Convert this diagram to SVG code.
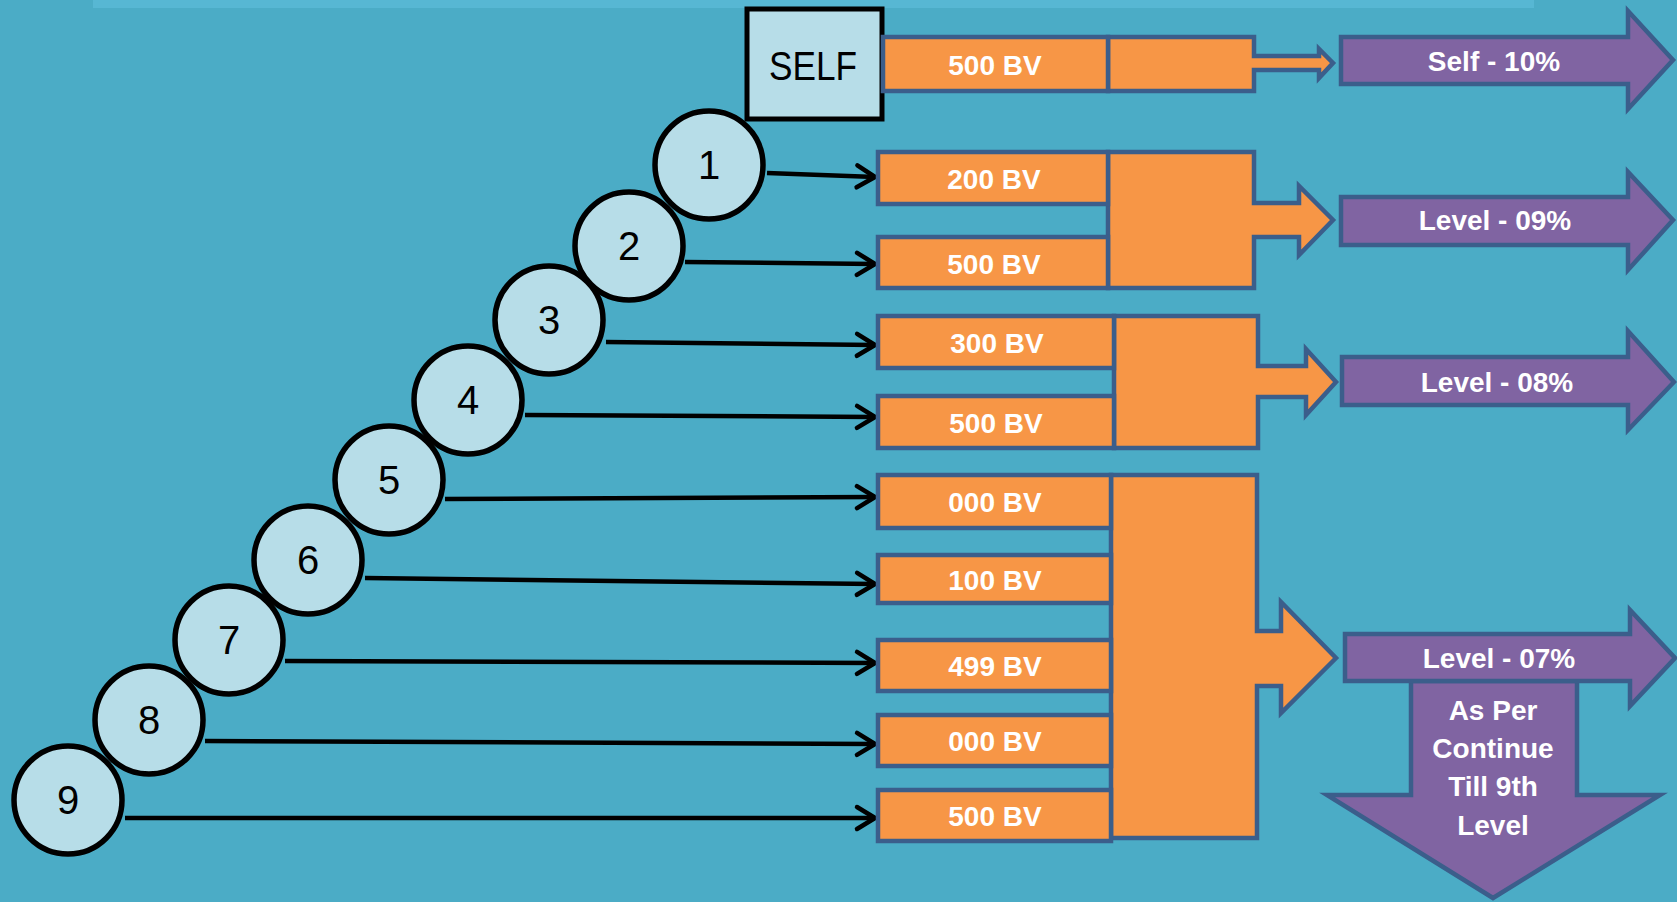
<svg xmlns="http://www.w3.org/2000/svg" width="1677" height="902" viewBox="0 0 1677 902">
<style>
.bg{fill:#4BACC6}
.strip{fill:#57B7D3}
.circ{fill:#B7DDE8;stroke:#000;stroke-width:5.5}
.num{font-family:"Liberation Sans",Arial,sans-serif;font-size:40px;fill:#000;text-anchor:middle}
.self{fill:#B7DDE8;stroke:#000;stroke-width:5}
.selft{font-family:"Liberation Sans",Arial,sans-serif;font-size:40px;fill:#000;text-anchor:middle}
.org{fill:#F79646;stroke:#3B5E8B;stroke-width:4.5;stroke-linejoin:miter}
.pur{fill:#8064A2;stroke:#3B5E8B;stroke-width:4.5;stroke-linejoin:miter}
.wt{font-family:"Liberation Sans",Arial,sans-serif;font-size:28px;font-weight:bold;fill:#fff;text-anchor:middle}
.con{stroke:#000;stroke-width:4.5;fill:none;marker-end:url(#chev)}
</style>
<defs>
<marker id="chev" markerUnits="userSpaceOnUse" viewBox="-24 -15 28 30" markerWidth="28" markerHeight="30" refX="0" refY="0" orient="auto">
<path d="M-18,-11 L0,0 L-18,11" fill="none" stroke="#000" stroke-width="4.5" stroke-linecap="round" stroke-linejoin="round"/>
</marker>
</defs>
<rect class="bg" x="0" y="0" width="1677" height="902"/>
<rect class="strip" x="93" y="0" width="1441" height="8"/>

<g id="connectors">
<line class="con" x1="767" y1="173" x2="875" y2="177"/>
<line class="con" x1="685" y1="262" x2="875" y2="264"/>
<line class="con" x1="606" y1="342" x2="875" y2="345"/>
<line class="con" x1="525" y1="415" x2="875" y2="417"/>
<line class="con" x1="445" y1="499" x2="875" y2="497"/>
<line class="con" x1="365" y1="578" x2="875" y2="584"/>
<line class="con" x1="285" y1="661" x2="875" y2="663"/>
<line class="con" x1="205" y1="741" x2="875" y2="744"/>
<line class="con" x1="125" y1="818" x2="875" y2="818"/>
</g>

<g id="n9"><circle class="circ" cx="68" cy="800" r="54"/><text class="num" x="68" y="814">9</text></g>
<g id="n8"><circle class="circ" cx="149" cy="720" r="54"/><text class="num" x="149" y="734">8</text></g>
<g id="n7"><circle class="circ" cx="229" cy="640" r="54"/><text class="num" x="229" y="654">7</text></g>
<g id="n6"><circle class="circ" cx="308" cy="560" r="54"/><text class="num" x="308" y="574">6</text></g>
<g id="n5"><circle class="circ" cx="389" cy="480" r="54"/><text class="num" x="389" y="494">5</text></g>
<g id="n4"><circle class="circ" cx="468" cy="400" r="54"/><text class="num" x="468" y="414">4</text></g>
<g id="n3"><circle class="circ" cx="549" cy="320" r="54"/><text class="num" x="549" y="334">3</text></g>
<g id="n2"><circle class="circ" cx="629" cy="246" r="54"/><text class="num" x="629" y="260">2</text></g>
<g id="n1"><circle class="circ" cx="709" cy="165" r="54"/><text class="num" x="709" y="179">1</text></g>

<g id="selfbox"><rect class="self" x="747" y="9" width="135" height="110"/><text class="selft" x="813" y="80" textLength="88" lengthAdjust="spacingAndGlyphs">SELF</text></g>

<g id="self-row">
<path class="org" d="M1108,37 H1254 V56 H1319 V49 L1333,63 L1319,78 V70 H1254 V91 H1108 Z"/>
<rect class="org" x="883" y="37" width="225" height="54"/>
<text class="wt" x="995" y="75">500 BV</text>
</g>

<g id="lvl9-group">
<path class="org" d="M1108,152 H1254 V203 H1299 V186 L1333,220 L1299,255 V237 H1254 V288 H1108 Z"/>
<rect class="org" x="878" y="152" width="230" height="52"/>
<text class="wt" x="994" y="189">200 BV</text>
<rect class="org" x="878" y="237" width="230" height="51"/>
<text class="wt" x="994" y="274">500 BV</text>
</g>

<g id="lvl8-group">
<path class="org" d="M1114,316 H1258 V366 H1306 V349 L1336,382 L1306,415 V397 H1258 V448 H1114 Z"/>
<rect class="org" x="878" y="316" width="236" height="52"/>
<text class="wt" x="997" y="353">300 BV</text>
<rect class="org" x="878" y="396" width="236" height="52"/>
<text class="wt" x="996" y="433">500 BV</text>
</g>

<g id="lvl7-group">
<path class="org" d="M1111,475 H1257 V631 H1281 V602 L1336,658 L1281,713 V686 H1257 V838 H1111 Z"/>
<rect class="org" x="878" y="475" width="233" height="53"/>
<text class="wt" x="995" y="512">000 BV</text>
<rect class="org" x="878" y="555" width="233" height="48"/>
<text class="wt" x="995" y="590">100 BV</text>
<rect class="org" x="878" y="640" width="233" height="51"/>
<text class="wt" x="995" y="676">499 BV</text>
<rect class="org" x="878" y="715" width="233" height="51"/>
<text class="wt" x="995" y="751">000 BV</text>
<rect class="org" x="878" y="790" width="233" height="51"/>
<text class="wt" x="995" y="826">500 BV</text>
</g>

<g id="self-10">
<path class="pur" d="M1341,37 H1628 V11 L1673,60 L1628,109 V84 H1341 Z"/>
<text class="wt" x="1494" y="71">Self - 10%</text>
</g>
<g id="level-09">
<path class="pur" d="M1341,197 H1628 V172 L1673,220 L1628,270 V245 H1341 Z"/>
<text class="wt" x="1495" y="230">Level - 09%</text>
</g>
<g id="level-08">
<path class="pur" d="M1342,357 H1628 V331 L1674,382 L1628,430 V405 H1342 Z"/>
<text class="wt" x="1497" y="392">Level - 08%</text>
</g>
<g id="level-07">
<path class="pur" d="M1411,681 H1577 V795 H1660 L1493,898 L1327,795 H1411 Z"/>
<path class="pur" d="M1345,634 H1630 V610 L1675,658 L1630,706 V681 H1345 Z"/>
<text class="wt" x="1499" y="668">Level - 07%</text>
<text class="wt" x="1493" y="720">As Per</text>
<text class="wt" x="1493" y="758">Continue</text>
<text class="wt" x="1493" y="796">Till 9th</text>
<text class="wt" x="1493" y="835">Level</text>
</g>
</svg>
